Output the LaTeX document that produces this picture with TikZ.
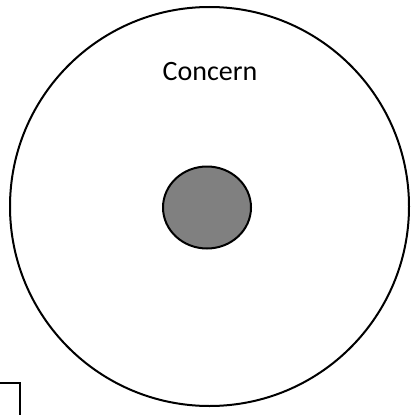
\documentclass[tikz,border=0pt]{standalone}
\usepackage{fontspec}
\setmainfont{Carlito}
\usetikzlibrary{shapes.geometric}
\begin{document}
\begin{tikzpicture}[x=1pt,y=-1pt,
  outline/.style={draw=black,line width=2pt},
  core/.style={outline,fill=black!50}]
\useasboundingbox (0,0) rectangle (410,415);
\begin{scope}
\clip (0,0) rectangle (410,415);
\node[outline,circle,minimum size=399pt,inner sep=0pt] (outer) at (209.5,206.5) {};
\node[core,ellipse,minimum width=88pt,minimum height=82pt,inner sep=0pt] (inner) at (207,207.5) {};
\node[font=\fontsize{28}{34}\selectfont,anchor=base,inner sep=0pt] (label) at (210,80) {Concern};
\node[outline,rectangle,minimum width=40pt,minimum height=50pt,inner sep=0pt,anchor=north east] (box) at (21,382) {};
\end{scope}
\end{tikzpicture}
\end{document}
